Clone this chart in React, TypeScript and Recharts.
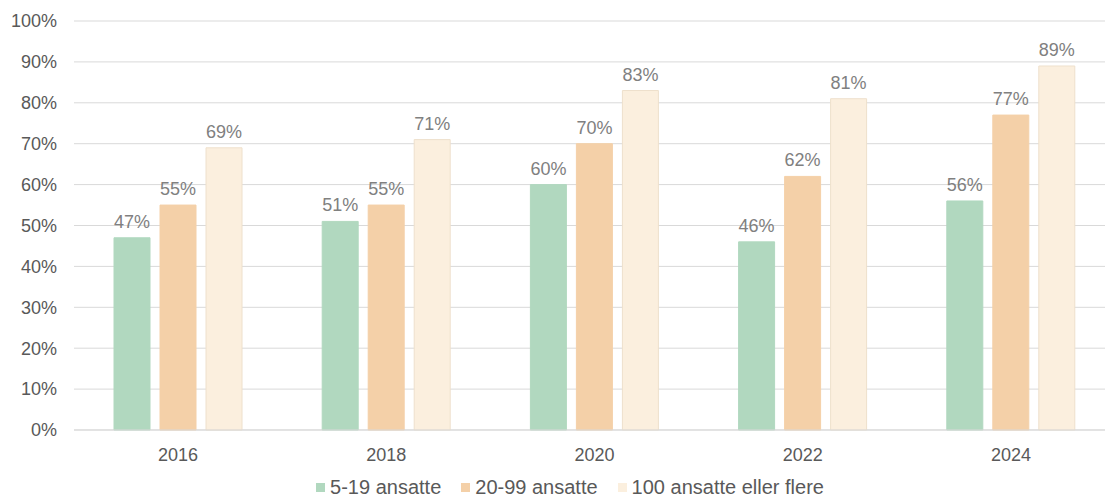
import { Bar, BarChart, CartesianGrid, LabelList, Legend, XAxis, YAxis } from "recharts";

const years = ["2016", "2018", "2020", "2022", "2024"];
const small = [47, 51, 60, 46, 56];
const medium = [55, 55, 70, 62, 77];
const large = [69, 71, 83, 81, 89];
const yTicks = [0, 10, 20, 30, 40, 50, 60, 70, 80, 90, 100];

const series = [
  { key: "small", name: "5-19 ansatte", fill: "#b1d8bf", stroke: "#b1d8bf" },
  { key: "medium", name: "20-99 ansatte", fill: "#f4d0a8", stroke: "#f4d0a8" },
  { key: "large", name: "100 ansatte eller flere", fill: "#fbefde", stroke: "#eee0cc" },
];

const data = years.map((year, i) => ({
  year,
  small: small[i],
  medium: medium[i],
  large: large[i],
}));

const font = "'Liberation Sans', Arial, sans-serif";

function LegendContent() {
  return (
    <div style={{ display: "flex", justifyContent: "center", fontFamily: font, fontSize: 20, color: "#595959" }}>
      {series.map((s, i) => (
        <div key={s.key} style={{ display: "flex", alignItems: "center", marginRight: i < series.length - 1 ? 20 : 0 }}>
          <span style={{ width: 9, height: 9, background: s.fill, marginRight: 5, display: "inline-block" }} />
          <span>{s.name}</span>
        </div>
      ))}
    </div>
  );
}

export default function App() {
  return (
    <div style={{ position: "fixed", left: 0, top: 0, width: 1105, height: 497, overflow: "hidden", background: "#fff" }}>
      <BarChart
        width={1140}
        height={497}
        data={data}
        margin={{ top: 21, right: 25, left: 8, bottom: 0 }}
        barCategoryGap={40}
        barGap={10}
      >
        <CartesianGrid vertical={false} stroke="#d9d9d9" />
        <XAxis
          dataKey="year"
          axisLine={{ stroke: "#d9d9d9" }}
          tickLine={false}
          tick={{ fill: "#595959", fontSize: 18, fontFamily: font }}
          tickMargin={12}
          height={36}
        />
        <YAxis
          domain={[0, 100]}
          ticks={yTicks}
          tickFormatter={(v) => `${v}%`}
          axisLine={false}
          tickLine={false}
          tickSize={0}
          tickMargin={17}
          width={66}
          tick={{ fill: "#595959", fontSize: 18, fontFamily: font }}
        />
        <Legend
          verticalAlign="bottom"
          height={31}
          content={<LegendContent />}
          wrapperStyle={{ left: 0, width: 1140, top: 476, bottom: "auto" }}
        />
        {series.map((s) => (
          <Bar key={s.key} dataKey={s.key} name={s.name} fill={s.fill} stroke={s.stroke} strokeWidth={1} isAnimationActive={false}>
            <LabelList
              dataKey={s.key}
              position="top"
              offset={10}
              formatter={(v: any) => `${v}%`}
              style={{ fill: "#808080", fontSize: 18, fontFamily: font }}
            />
          </Bar>
        ))}
      </BarChart>
    </div>
  );
}
